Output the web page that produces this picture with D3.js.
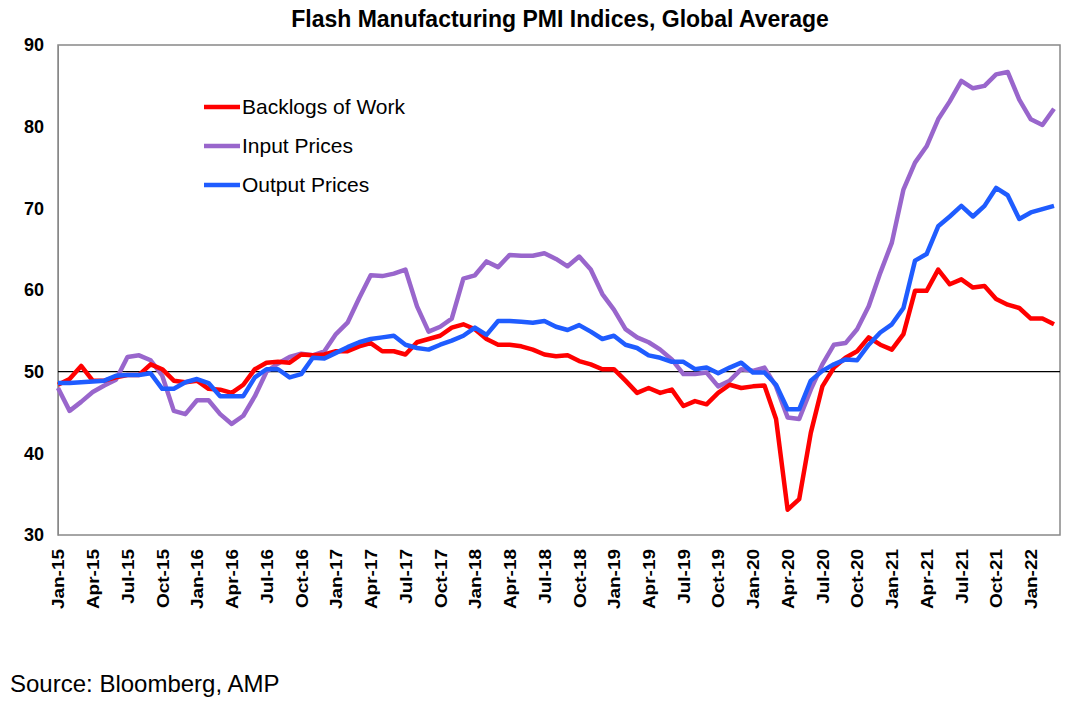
<!DOCTYPE html>
<meta charset="utf-8" />
<script src="https://d3js.org/d3.v7.min.js"></script>
<style>
  body { margin: 0; background: #fff; }
  text { font-family: "Liberation Sans", Arial, sans-serif; }
</style>
<body>
<div id="chart"></div>
<script>
// monthly, Jan-15 .. Mar-22
var backlogs = [48.4,49.1,50.7,48.9,48.9,49.3,49.6,49.6,50.9,50.3,48.9,48.7,48.9,47.9,47.8,47.4,48.4,50.3,51.1,51.2,51.1,52.1,52.0,52.1,52.5,52.5,53.1,53.5,52.5,52.5,52.1,53.6,54.0,54.4,55.4,55.8,55.2,54.0,53.3,53.3,53.1,52.7,52.1,51.9,52.0,51.3,50.9,50.3,50.3,48.9,47.4,48.0,47.4,47.8,45.8,46.4,46.0,47.4,48.4,48.0,48.2,48.3,44.2,33.1,34.4,42.5,48.2,50.5,51.7,52.5,54.2,53.3,52.7,54.6,59.9,59.9,62.5,60.7,61.3,60.3,60.5,58.9,58.2,57.8,56.5,56.5,55.8];
var inputPrices = [48.0,45.2,46.3,47.5,48.3,49.0,51.8,52.0,51.4,49.5,45.2,44.8,46.5,46.5,44.8,43.6,44.6,47.0,50.0,51.0,51.8,52.2,52.0,52.5,54.6,56.0,59.0,61.8,61.7,62.0,62.5,58.0,54.9,55.5,56.5,61.4,61.8,63.5,62.8,64.3,64.2,64.2,64.5,63.8,62.9,64.1,62.5,59.5,57.6,55.2,54.2,53.6,52.7,51.5,49.7,49.7,49.9,48.2,48.9,50.3,50.1,50.5,48.2,44.4,44.2,47.8,50.9,53.3,53.5,55.2,58.0,62.1,65.8,72.3,75.6,77.6,80.9,83.1,85.6,84.7,85.0,86.4,86.7,83.3,80.9,80.2,82.2];
var outputPrices = [48.6,48.6,48.7,48.8,48.9,49.5,49.6,49.6,49.8,47.9,47.9,48.7,49.1,48.6,47.0,47.0,47.0,49.3,50.3,50.3,49.3,49.7,51.7,51.6,52.3,53.0,53.6,54.0,54.2,54.4,53.3,52.9,52.7,53.3,53.8,54.4,55.4,54.5,56.2,56.2,56.1,56.0,56.2,55.5,55.1,55.7,54.9,54.0,54.4,53.3,52.9,52.0,51.7,51.2,51.2,50.3,50.5,49.8,50.5,51.1,49.9,49.9,48.4,45.4,45.4,48.9,50.1,50.9,51.5,51.4,53.3,54.8,55.8,57.8,63.6,64.4,67.8,69.0,70.3,69.0,70.3,72.5,71.6,68.7,69.5,69.9,70.3];
var seriesNames = ["Backlogs of Work", "Input Prices", "Output Prices"];
var seriesColors = ["#ff0000", "#9966cc", "#1f5cff"];
var yTicks = [30, 40, 50, 60, 70, 80, 90];
var monthNames = ["Jan","Feb","Mar","Apr","May","Jun","Jul","Aug","Sep","Oct","Nov","Dec"];

var W = 1079, H = 715;
var mLeft = 58, mRight = 1058, mTop = 45, mBottom = 535;
var n = backlogs.length;
var labels = d3.range(n).map(function (i) {
  return monthNames[i % 12] + "-" + (15 + Math.floor(i / 12));
});

var svg = d3.select("#chart").append("svg").attr("width", W).attr("height", H);

var x = d3.scaleLinear().domain([0, n - 1]).range([mLeft, mRight - 4]);
var y = d3.scaleLinear().domain([30, 90]).range([mBottom, mTop]);

svg.append("text").attr("x", 560).attr("y", 27).attr("text-anchor", "middle")
  .attr("font-size", 23).attr("font-weight", "bold").text("Flash Manufacturing PMI Indices, Global Average");

// plot frame
svg.append("rect").attr("x", mLeft).attr("y", mTop).attr("width", mRight + 2 - mLeft).attr("height", mBottom - mTop)
  .attr("fill", "none").attr("stroke", "#888").attr("stroke-width", 1.5);

// y axis
var yAxis = svg.append("g").attr("transform", "translate(" + mLeft + ",0)")
  .call(d3.axisLeft(y).tickValues(yTicks).tickSize(0).tickPadding(14));
yAxis.select(".domain").attr("stroke", "#888");
yAxis.selectAll("text").attr("font-size", 18).attr("font-weight", "bold").attr("fill", "#000")
  .style("font-family", "Liberation Sans, Arial, sans-serif");

// x axis
var xAxis = svg.append("g").attr("transform", "translate(0," + mBottom + ")")
  .call(d3.axisBottom(x).tickValues(d3.range(0, n, 3)).tickSize(0).tickFormat(function (i) { return labels[i]; }));
xAxis.select(".domain").remove();
xAxis.selectAll("text").attr("font-size", 19).attr("font-weight", "bold").attr("fill", "#000")
  .style("font-family", "Liberation Sans, Arial, sans-serif")
  .attr("transform", "rotate(-90) scale(1,0.88)").attr("text-anchor", "end")
  .attr("x", -14).attr("y", 0).attr("dy", "0.35em");

// 50 line
svg.append("line").attr("x1", mLeft).attr("x2", mRight + 2).attr("y1", y(50)).attr("y2", y(50))
  .attr("stroke", "#000").attr("stroke-width", 1.2);

var all = [backlogs, inputPrices, outputPrices];
var line = d3.line().x(function (d, i) { return x(i); }).y(function (d) { return y(d); });
[1, 0, 2].forEach(function (k) {
  svg.append("path").datum(all[k]).attr("d", line).attr("fill", "none")
    .attr("stroke", seriesColors[k]).attr("stroke-width", 4.5).attr("stroke-linejoin", "round");
});

// legend
seriesNames.forEach(function (s, k) {
  var ly = 107 + k * 39;
  svg.append("line").attr("x1", 204).attr("x2", 240).attr("y1", ly).attr("y2", ly)
    .attr("stroke", seriesColors[k]).attr("stroke-width", 4.5);
  svg.append("text").attr("x", 242).attr("y", ly + 7).attr("font-size", 21).text(s);
});

svg.append("text").attr("x", 10).attr("y", 692).attr("font-size", 24).text("Source: Bloomberg, AMP");
</script>
</body>
